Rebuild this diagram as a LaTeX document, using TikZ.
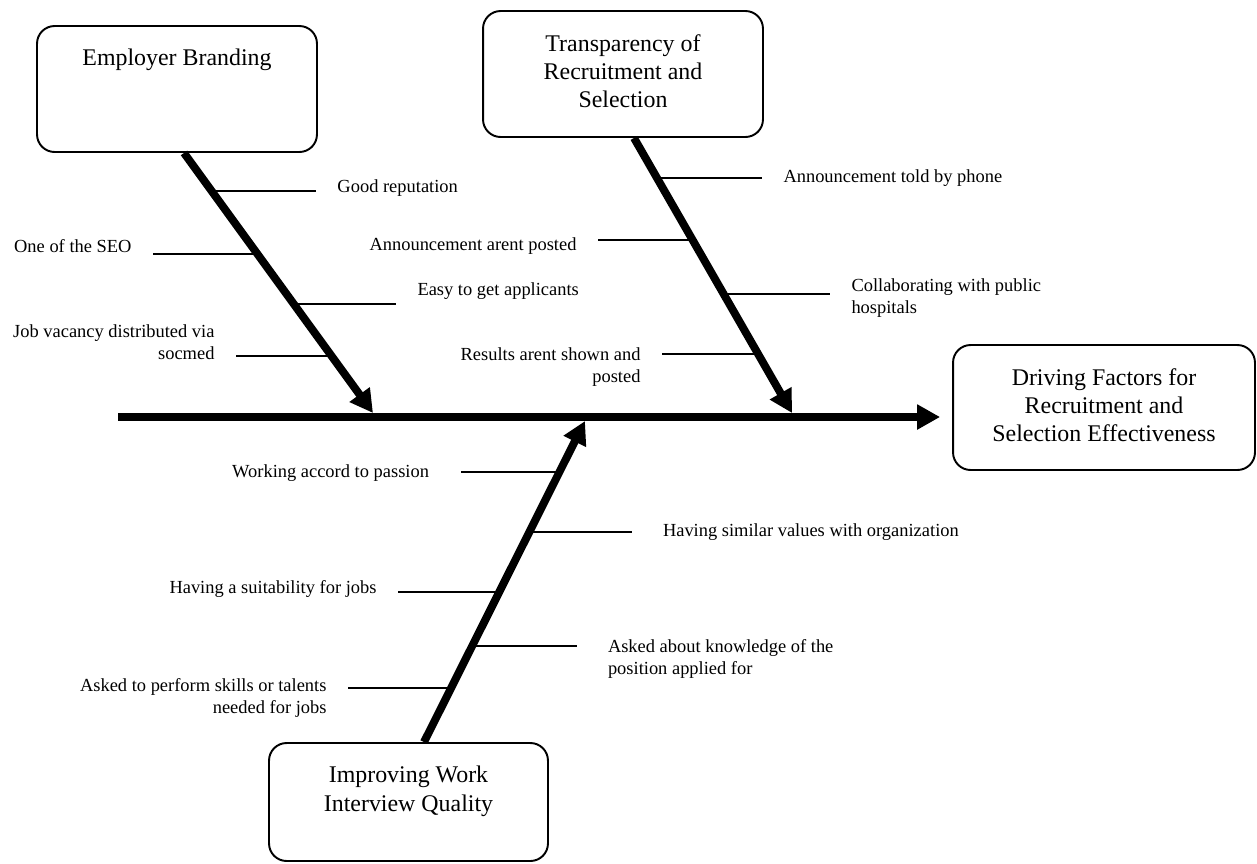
\documentclass[tikz,border=0pt]{standalone}
\usepackage{fontspec}
\setmainfont{Liberation Serif}
\usepackage{tikz}
\usetikzlibrary{arrows.meta,positioning}
\usepackage{xcolor}
\definecolor{fbInk}{HTML}{000000}
\newcommand{\ribfont}{\fontsize{10.5}{12.2}\selectfont}
\newcommand{\causefont}{\fontsize{13.6}{16}\selectfont}
\tikzset{
  causebox/.style={draw=fbInk, line width=1.1pt, rounded corners=10pt, inner sep=0pt},
  boxtxt/.style={font=\causefont, text=fbInk, align=center, inner sep=0pt},
  ribR/.style={font=\ribfont, text=fbInk, align=left, anchor=base west, inner sep=0pt, outer ysep=0pt, outer xsep=0.43cm},
  ribL/.style={ribR, align=right, anchor=base east},
  rib/.style={draw=fbInk, line width=1pt},
  bone/.style={draw=fbInk, line width=4.5pt, -{Triangle[length=13pt,width=13.5pt]}},
}

\begin{document}
\begin{tikzpicture}[x=0.02cm, y=-0.02cm]
            \useasboundingbox (0,0) rectangle (1257,863);
            \node[causebox, minimum width=5.6cm, minimum height=2.52cm] (brand) at (177,89) {};
            \node[boxtxt, below=0.48cm of brand.north] (brandtxt) {Employer Branding};
            \node[causebox, minimum width=5.6cm, minimum height=2.52cm] (transp) at (623,74) {};
            \node[boxtxt, below=0.48cm of transp.north] (transptxt) {Transparency of\\Recruitment and\\Selection};
            \node[causebox, minimum width=6.04cm, minimum height=2.5cm] (drive) at (1104,407.5) {};
            \node[boxtxt, below=0.48cm of drive.north] (drivetxt) {Driving Factors for\\Recruitment and\\Selection Effectiveness};
            \node[causebox, minimum width=5.58cm, minimum height=2.36cm] (interview) at (408.5,802) {};
            \node[boxtxt, below=0.48cm of interview.north] (interviewtxt) {Improving Work\\Interview Quality};
            \coordinate (spineL) at (118,417);
            \coordinate (tipB) at (373,413);
            \coordinate (tipT) at (792,413);
            \coordinate (tipI) at (585,421);
            \draw[bone, shorten >=0.24cm] (spineL) -- (spineL -| drive.west);
            \draw[bone] ([xshift=0.14cm]brand.south) -- (tipB);
            \draw[bone] ([xshift=0.22cm]transp.south) -- (tipT);
            \draw[bone] ([xshift=0.31cm]interview.north) -- (tipI);
            \node[ribR] (goodrep) at (316,192) {Good reputation};
            \node[ribL] (seo) at (153,252) {One of the SEO};
            \node[ribR] (easyapp) at (396,295) {Easy to get applicants};
            \node[ribL] (jobvac) at (236,359) {Job vacancy distributed via\\socmed};
            \coordinate (gr) at (212,191);
            \coordinate (se) at (258,254);
            \coordinate (ea) at (294,304);
            \coordinate (jv) at (332,356);
            \draw[rib] (gr) -- (gr -| goodrep.west);
            \draw[rib] (se) -- (se -| seo.east);
            \draw[rib] (ea) -- (ea -| easyapp.west);
            \draw[rib] (jv) -- (jv -| jobvac.east);
            \node[ribR] (phone) at (762,182) {Announcement told by phone};
            \node[ribL] (notposted) at (598,250) {Announcement arent posted};
            \node[ribR] (collab) at (830,313) {Collaborating with public\\hospitals};
            \node[ribL] (results) at (662,382) {Results arent shown and\\posted};
            \coordinate (ph) at (657,178);
            \coordinate (np) at (693,240);
            \coordinate (cb) at (724,294);
            \coordinate (rs) at (758,354);
            \draw[rib] (ph) -- (ph -| phone.west);
            \draw[rib] (np) -- (np -| notposted.east);
            \draw[rib] (cb) -- (cb -| collab.west);
            \draw[rib] (rs) -- (rs -| results.east);
            \node[ribL, outer xsep=0.64cm] (passion) at (461,477) {Working accord to passion};
            \node[ribR, outer xsep=0.62cm] (similar) at (632,536) {Having similar values with organization};
            \node[ribL] (suit) at (398,593) {Having a suitability for jobs};
            \node[ribR, outer xsep=0.62cm] (knowl) at (577,674) {Asked about knowledge of the\\position applied for};
            \node[ribL] (perform) at (348,713) {Asked to perform skills or talents\\needed for jobs};
            \coordinate (pa) at (559,472);
            \coordinate (sv) at (529,532);
            \coordinate (su) at (499,592);
            \coordinate (kn) at (472,646);
            \coordinate (pf) at (451,688);
            \draw[rib] (pa) -- (pa -| passion.east);
            \draw[rib] (sv) -- (sv -| similar.west);
            \draw[rib] (su) -- (su -| suit.east);
            \draw[rib] (kn) -- (kn -| knowl.west);
            \draw[rib] (pf) -- (pf -| perform.east);
        \end{tikzpicture}
\end{document}
